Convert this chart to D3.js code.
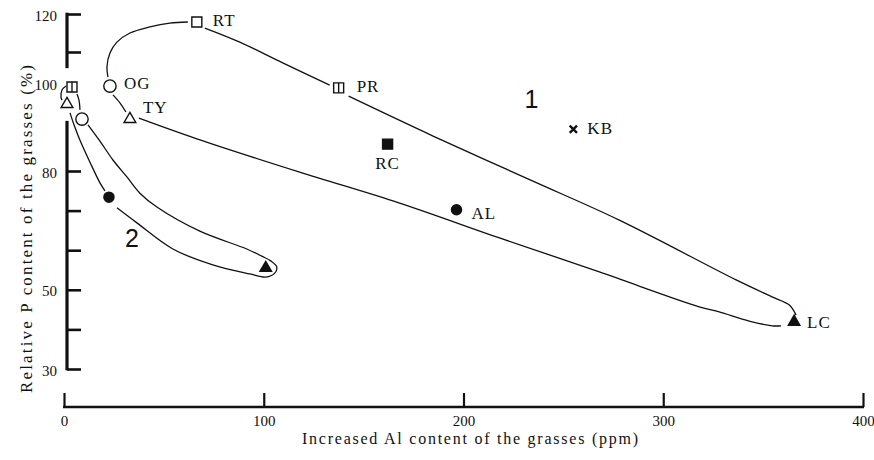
<!DOCTYPE html>
<html>
<head>
<meta charset="utf-8">
<script src="https://cdn.jsdelivr.net/npm/d3@7/dist/d3.min.js"></script>
<style>
  html, body { margin: 0; padding: 0; background: #fff; }
  svg { display: block; }
  text { fill: #111; }
</style>
</head>
<body>
<svg id="chart" width="874" height="460"></svg>
<script>
// Grass samples: increased Al (ppm) vs relative P content (%)
const names   = ["RT", "PR", "OG", "TY", "RC", "KB", "AL", "LC", "", "", "", "", ""];
const alPpm   = [66.5, 137.5, 23, 33, 162, 255, 196.5, 365.5, 4, 1.5, 9, 22.5, 101];
const relP    = [117.9, 98.9, 99.3, 91.8, 86.1, 89.5, 70.2, 41.9, 99.1, 95.2, 91.8, 73.4, 55.5];
const markers = ["square", "squareBar", "circle", "triangle", "squareFilled", "cross",
                 "circleFilled", "triangleFilled", "squareBar", "triangle", "circle",
                 "circleFilled", "triangleFilled"];

// Hand-drawn envelopes around group 1 and group 2, as [Al ppm, P %] pieces
const group1Edges = [
  [[22,101.9],[21.5,105.2],[23,109.7],[26.5,112.6],[33,115],[43,116.6],[53,117.6],[62,117.9]],
  [[70.5,116.3],[88,112.6],[109.5,106.5],[133,99.5]],
  [[142.5,97],[184.5,88],[234.5,77.5],[278,67.6],[336.5,52.5],[354.5,48.2],
   [363,46.2],[366.5,43.6]],
  [[359,40.9],[354.5,40.9],[343,42.1],[328,44.4],[318,45.7],[268,54.5],[218,63.1],
   [168,71.9],[118,79.7],[66.5,87.3],[37.5,92]],
  [[24.5,97.3],[28,95.5],[31,93.4]]
];
const group2Edges = [
  [[1,99.3],[-1,98.4],[-1.5,96.8],[-1,96.1]],
  [[3,93.2],[5,90.5],[8,87],[13,82],[18,77],[20.5,75]],
  [[26.5,70.7],[36.5,66.9],[54.5,60.3],[74.5,56.3],[93,54],[101,53.2],[105.5,54.2],
   [106.5,55.8],[103.5,57.3],[99,58.5],[91.5,60.3],[68,64.8],[46.5,70.9],[38,74.4],
   [31.5,78.5],[24.5,82.5],[18,86.8],[12,90.5]],
  [[8,93.9],[7.5,96.1],[6.5,97.5]]
];

const groupNames = ["1", "2"];
const groupAl    = [234, 34];
const groupP     = [96.4, 63.1];

const xTicks       = [0, 100, 200, 300, 400];
const yTickMarks   = [120, 110, 80, 70, 60, 50, 40, 30];
const yTickLabels  = [120, 100, 80, 50, 30];
const yAxisPieces  = [[105.2, 120], [30, 91.1]];

const xTitle = "Increased Al content of the grasses (ppm)";
const yTitle = "Relative P content of the grasses (%)";

// ---- scales (the P axis is drawn unevenly, so it is piecewise) ----
const x = d3.scaleLinear().domain([0, 400]).range([64, 863]);
const y = d3.scaleLinear().domain([30, 80, 100, 110, 120]).range([369, 171, 83, 52, 14]);

const svg = d3.select("#chart");
const ink = "#111";
const serif = "'Liberation Serif', 'Times New Roman', serif";
const yAxisX = 67;
const xAxisY = 407;

// ---- y axis: broken spine, inward ticks, labels on the left ----
const yAxisG = svg.append("g").attr("transform", `translate(${yAxisX},0)`);
yAxisG.call(d3.axisRight(y).tickValues(yTickMarks).tickSize(14).tickFormat(""))
  .call(g => g.select(".domain").remove())
  .call(g => g.selectAll(".tick line").attr("stroke", ink).attr("stroke-width", 2.6));
yAxisPieces.forEach(([lo, hi]) => {
  yAxisG.append("line")
    .attr("x1", 0).attr("x2", 0)
    .attr("y1", y(hi) - 1.3).attr("y2", y(lo) + 1.3)
    .attr("stroke", ink).attr("stroke-width", 3.2);
});
const yLabG = svg.append("g").attr("transform", `translate(${yAxisX},0)`);
yLabG.call(d3.axisLeft(y).tickValues(yTickLabels).tickSize(0).tickPadding(10))
  .call(g => g.select(".domain").remove())
  .call(g => g.selectAll("text")
    .attr("font-family", serif).attr("font-size", 15).attr("fill", ink)
    .attr("dy", "0.4em"));

// ---- x axis: spine, upward ticks, labels below ----
const xAxisG = svg.append("g").attr("transform", `translate(0,${xAxisY})`);
xAxisG.call(d3.axisTop(x).tickValues(xTicks).tickSize(14).tickFormat(""))
  .call(g => g.select(".domain").remove())
  .call(g => g.selectAll(".tick line").attr("stroke", ink).attr("stroke-width", 2.2));
xAxisG.append("line")
  .attr("x1", x(0) - 1).attr("x2", x(400) + 1)
  .attr("y1", 0).attr("y2", 0)
  .attr("stroke", ink).attr("stroke-width", 2.6);
const xLabG = svg.append("g").attr("transform", `translate(0,${xAxisY})`);
xLabG.call(d3.axisBottom(x).tickValues(xTicks).tickSize(0).tickPadding(8))
  .call(g => g.select(".domain").remove())
  .call(g => g.selectAll("text")
    .attr("font-family", serif).attr("font-size", 15).attr("fill", ink));

// ---- axis titles ----
svg.append("text")
  .attr("x", 470).attr("y", 444)
  .attr("text-anchor", "middle")
  .attr("font-family", serif).attr("font-size", 16)
  .attr("textLength", 336).attr("lengthAdjust", "spacing")
  .text(xTitle);
svg.append("text")
  .attr("transform", "translate(32,229) rotate(-90)")
  .attr("text-anchor", "middle")
  .attr("font-family", serif).attr("font-size", 17)
  .attr("textLength", 328).attr("lengthAdjust", "spacing")
  .text(yTitle);

// ---- envelopes ----
const edge = d3.line().x(d => x(d[0])).y(d => y(d[1])).curve(d3.curveCatmullRom.alpha(0.5));
[...group1Edges, ...group2Edges].forEach(piece => {
  svg.append("path")
    .attr("d", edge(piece))
    .attr("fill", "none").attr("stroke", ink).attr("stroke-width", 1.3);
});

// ---- markers ----
const symbolSpec = {
  square:         { type: d3.symbolSquare,   size: 100, fill: false },
  squareBar:      { type: d3.symbolSquare,   size: 100, fill: false, bar: true },
  squareFilled:   { type: d3.symbolSquare,   size: 100, fill: true },
  circle:         { type: d3.symbolCircle,   size: 120, fill: false },
  circleFilled:   { type: d3.symbolCircle,   size: 80,  fill: true },
  triangle:       { type: d3.symbolTriangle, size: 60,  fill: false },
  triangleFilled: { type: d3.symbolTriangle, size: 58,  fill: true },
  cross:          { type: d3.symbolX,        size: 36,  fill: false }
};
const pts = names.map((n, i) => ({ name: n, al: alPpm[i], p: relP[i], marker: markers[i] }));
const ptG = svg.append("g");
pts.forEach(d => {
  const s = symbolSpec[d.marker];
  const cx = x(d.al), cy = y(d.p);
  const g = ptG.append("g").attr("transform", `translate(${cx},${cy})`);
  g.append("path")
    .attr("d", d3.symbol(s.type, s.size)())
    .attr("fill", s.fill ? ink : "#fff")
    .attr("stroke", ink)
    .attr("stroke-width", d.marker === "cross" ? 2.4 : 1.4);
  if (s.bar) {
    const h = Math.sqrt(s.size) / 2;
    g.append("line").attr("x1", 0).attr("x2", 0).attr("y1", -h).attr("y2", h)
      .attr("stroke", ink).attr("stroke-width", 1.4);
  }
});

// ---- sample names ----
const labelPlace = {
  RT: { dx: 16, dy: -2, anchor: "start" },
  PR: { dx: 18, dy: -2, anchor: "start" },
  OG: { dx: 14, dy: -3, anchor: "start" },
  TY: { dx: 13, dy: -12, anchor: "start" },
  RC: { dx: 0,  dy: 19, anchor: "middle" },
  KB: { dx: 14, dy: -1, anchor: "start" },
  AL: { dx: 15, dy: 3,  anchor: "start" },
  LC: { dx: 13, dy: 0,  anchor: "start" }
};
pts.filter(d => d.name).forEach(d => {
  const L = labelPlace[d.name];
  svg.append("text")
    .attr("x", x(d.al) + L.dx).attr("y", y(d.p) + L.dy)
    .attr("dy", "0.36em")
    .attr("text-anchor", L.anchor)
    .attr("font-family", serif).attr("font-size", 17)
    .attr("letter-spacing", 1)
    .text(d.name);
});

// ---- group numbers ----
groupNames.forEach((g, i) => {
  svg.append("text")
    .attr("x", x(groupAl[i])).attr("y", y(groupP[i]))
    .attr("dy", "0.36em")
    .attr("text-anchor", "middle")
    .attr("font-family", "'Liberation Sans', Arial, sans-serif")
    .attr("font-size", 25)
    .text(g);
});
</script>
</body>
</html>
